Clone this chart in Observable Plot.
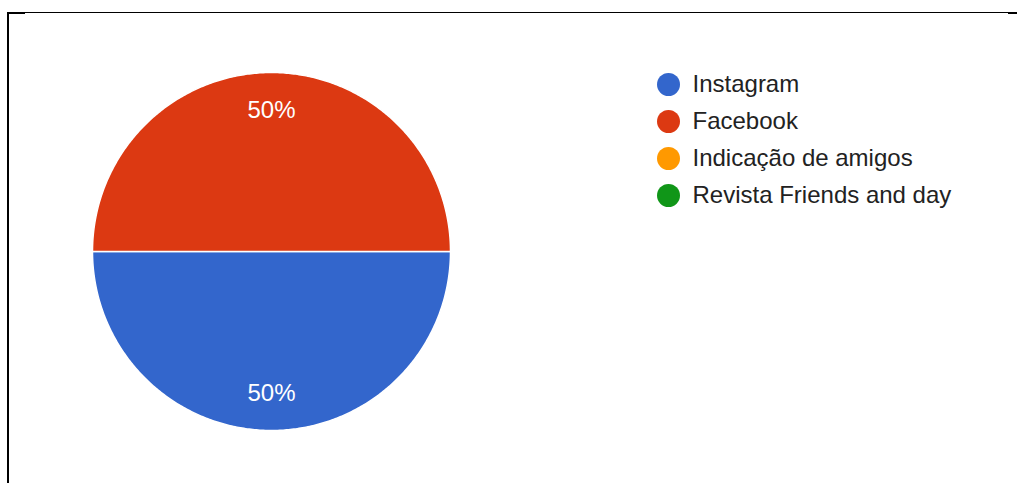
<!DOCTYPE html>
<html>
<head>
<meta charset="utf-8">
<script src="https://cdn.jsdelivr.net/npm/d3@7"></script>
<script src="https://cdn.jsdelivr.net/npm/@observablehq/plot@0.6"></script>
<style>
  html, body { margin: 0; padding: 0; background: #fff; }
  #stage { position: relative; width: 1017px; height: 483px; overflow: hidden; font-family: "Liberation Sans", Arial, sans-serif; }
  #frame { position: absolute; left: 7px; top: 12px; right: 0; bottom: 0; border-top: 1px solid #000; border-left: 2px solid #000; }
  #tl { position: absolute; left: 7px; top: 12px; width: 18px; height: 2px; background: #000; }
  #tr { position: absolute; left: 1008px; top: 12px; width: 9px; height: 2px; background: #000; }
  #pie { position: absolute; left: 92px; top: 72px; }
  #legend { position: absolute; left: 650px; top: 60px; }
</style>
</head>
<body>
<div id="stage">
  <div id="frame"></div><div id="tl"></div><div id="tr"></div>
  <div id="pie"></div>
  <div id="legend"></div>
</div>
<script>
// Data
const categories = ["Instagram", "Facebook", "Indicação de amigos", "Revista Friends and day"];
const values = [50, 50, 0, 0];
const colors = ["#3366cc", "#dc3912", "#ff9900", "#109618"];

const rows = categories.map((c, i) => ({name: c, value: values[i]}));
const total = d3.sum(values);

// Pie geometry (clockwise from 12 o'clock, screen y down)
const arcs = d3.pie().value(d => d.value).sort(null)
  .startAngle(Math.PI / 2).endAngle(Math.PI / 2 + 2 * Math.PI)(rows);

const pt = (a, r) => [r * Math.sin(a), -r * Math.cos(a)];
const features = arcs.filter(a => a.data.value > 0).map(a => {
  const n = Math.max(2, Math.ceil((a.endAngle - a.startAngle) / 0.01));
  const ring = [[0, 0]];
  for (let k = 0; k <= n; ++k) ring.push(pt(a.startAngle + (a.endAngle - a.startAngle) * k / n, 1));
  ring.push([0, 0]);
  return {type: "Feature", properties: {name: a.data.name}, geometry: {type: "Polygon", coordinates: [ring]}};
});
const labels = arcs.filter(a => a.data.value > 0).map(a => {
  const m = (a.startAngle + a.endAngle) / 2;
  const [x, y] = pt(m, 0.79);
  return {x, y, text: Math.round(100 * a.data.value / total) + "%"};
});
const disk = {type: "Polygon", coordinates: [d3.range(0, 361).map(d => pt(d * Math.PI / 180, 1))]};

const colorScale = {domain: categories, range: colors};

const pie = Plot.plot({
  width: 358, height: 358,
  margin: 0,
  projection: {type: "identity", domain: disk},
  color: colorScale,
  marks: [
    Plot.geo(features, {fill: d => d.properties.name, stroke: "#fff", strokeWidth: 1.5}),
    Plot.text(labels, {x: "x", y: "y", text: "text", fill: "#fff", fontSize: 24, fontFamily: "Liberation Sans, Arial, sans-serif"})
  ]
});
document.getElementById("pie").appendChild(pie);

const legend = Plot.plot({
  width: 330, height: 160,
  margin: 0,
  x: {axis: null, domain: [0, 1]},
  y: {type: "point", domain: categories, range: [23, 136], padding: 0, axis: null},
  color: colorScale,
  marks: [
    Plot.dot(categories, {y: d => d, fill: d => d, r: 11.5, frameAnchor: "left", dx: 18}),
    Plot.text(categories, {y: d => d, text: d => d, frameAnchor: "left", dx: 42, textAnchor: "start",
      fill: "#222", fontSize: 24, fontFamily: "Liberation Sans, Arial, sans-serif"})
  ]
});
document.getElementById("legend").appendChild(legend);
</script>
</body>
</html>
